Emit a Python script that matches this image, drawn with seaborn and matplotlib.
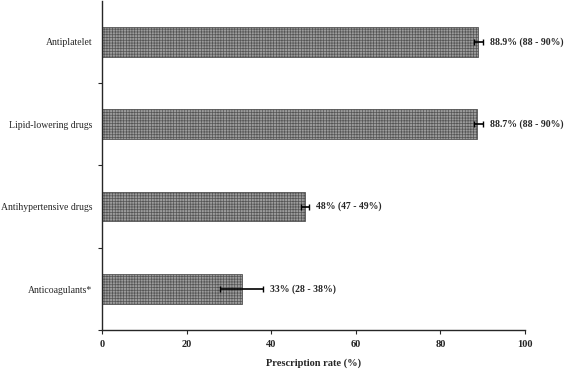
import numpy as np
import pandas as pd
import matplotlib
matplotlib.use("Agg")
import matplotlib.pyplot as plt
import seaborn as sns

categories = ["Antiplatelet", "Lipid-lowering drugs", "Antihypertensive drugs", "Anticoagulants*"]
rates = [88.9, 88.7, 48.0, 33.0]
ci_low = [88.0, 88.0, 47.0, 28.0]
ci_high = [90.0, 90.0, 49.0, 38.0]
labels = ["88.9% (88 - 90%)", "88.7% (88 - 90%)", "48% (47 - 49%)", "33% (28 - 38%)"]

df = pd.DataFrame({"drug": categories, "rate": rates})

sns.set_style("ticks")
plt.rcParams["font.family"] = ["Liberation Serif", "DejaVu Serif"]
plt.rcParams["hatch.color"] = "#f2f2f2"
plt.rcParams["hatch.linewidth"] = 0.5

fig = plt.figure(figsize=(5.67, 3.71), dpi=100)
ax = fig.add_axes([0.18, 0.11, 0.746, 0.888])

sns.barplot(data=df, x="rate", y="drug", orient="h", color="#9c9c9c",
            width=0.36, errorbar=None, ax=ax, saturation=1)
for p in ax.patches:
    p.set_hatch("++++++")
    p.set_edgecolor("#555555")
    p.set_linewidth(0.6)

pos = np.arange(len(categories))
err = [np.array(rates) - np.array(ci_low), np.array(ci_high) - np.array(rates)]
ax.errorbar(rates, pos, xerr=err, fmt="none", ecolor="black", elinewidth=1.2,
            capsize=2.5, capthick=1.0)
for y, hi, lab in zip(pos, ci_high, labels):
    ax.text(hi + 1.6, y, lab, va="center", ha="left", fontsize=7, fontweight="bold")

ax.set_xlim(0, 100)
ax.set_ylim(3.5, -0.5)
ax.set_xticks([0, 20, 40, 60, 80, 100])
ax.set_xticklabels(["0", "20", "40", "60", "80", "100"], fontsize=7.5, fontweight="bold")
ax.set_yticks(pos)
ax.set_yticklabels(categories, fontsize=7)
ax.tick_params(axis="y", which="major", length=0, pad=7)
ax.set_yticks([0.5, 1.5, 2.5, 3.5], minor=True)
ax.tick_params(axis="y", which="minor", length=3, width=0.8)
ax.tick_params(axis="x", length=3, width=0.8, pad=4)
ax.set_xlabel("Prescription rate (%)", fontsize=7.5, fontweight="bold", labelpad=7)
ax.set_ylabel("")
sns.despine(ax=ax)
for s in ["left", "bottom"]:
    ax.spines[s].set_linewidth(1.0)

fig.savefig("out.png", dpi=100)
